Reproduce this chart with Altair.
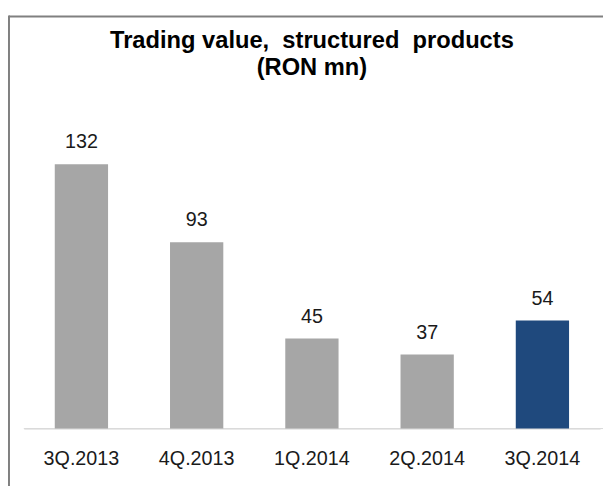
import altair as alt
import pandas as pd

quarters = ["3Q.2013", "4Q.2013", "1Q.2014", "2Q.2014", "3Q.2014"]
values = [132, 93, 45, 37, 54]
bar_colors = ["#A6A6A6", "#A6A6A6", "#A6A6A6", "#A6A6A6", "#1F497D"]
title_line1 = "Trading value,\u00a0 structured\u00a0 products"
title_line2 = "(RON mn)"

df = pd.DataFrame({"quarter": quarters, "value": values, "color": bar_colors})

FONT = "Liberation Sans, Arial, sans-serif"

x_enc = alt.X(
    "quarter:N",
    sort=quarters,
    scale=alt.Scale(paddingInner=0.54, paddingOuter=0.27),
    axis=alt.Axis(
        title=None, labelAngle=0, ticks=False, tickSize=0, grid=False,
        domainColor="#D9D9D9", domainWidth=1,
        labelFont=FONT, labelFontSize=20, labelColor="#1A1A1A",
        labelBaseline="alphabetic", labelPadding=36,
    ),
)
y_enc = alt.Y("value:Q", scale=alt.Scale(domain=[0, 165.5]), axis=None)

base = alt.Chart(df)

bars = base.mark_bar(size=54).encode(x=x_enc, y=y_enc, color=alt.Color("color:N", scale=None))
labels = base.mark_text(
    baseline="alphabetic", dy=-16, font=FONT, fontSize=20, color="#1A1A1A"
).encode(x=x_enc, y=y_enc, text="value:Q")

one = pd.DataFrame({"k": [0]})
frame_top = alt.Chart(one).mark_rule(color="#808080", strokeWidth=2).encode(
    x=alt.value(-15), x2=alt.value(600), y=alt.value(-81.5)
)
frame_left = alt.Chart(one).mark_rule(color="#808080", strokeWidth=2).encode(
    x=alt.value(-15), y=alt.value(-82.5), y2=alt.value(400)
)
base_ext = alt.Chart(one).mark_rule(color="#D9D9D9", strokeWidth=1).encode(
    x=alt.value(0), x2=alt.value(590), y=alt.value(336)
)
t1 = alt.Chart(one).mark_text(
    font=FONT, fontSize=24, fontWeight="bold", color="#000000",
    align="center", baseline="alphabetic",
).encode(x=alt.value(292), y=alt.value(-50), text=alt.value(title_line1))
t2 = alt.Chart(one).mark_text(
    font=FONT, fontSize=24, fontWeight="bold", color="#000000",
    align="center", baseline="alphabetic",
).encode(x=alt.value(292), y=alt.value(-22.5), text=alt.value(title_line2))

chart = alt.layer(frame_top, frame_left, base_ext, bars, labels, t1, t2).properties(
    width=584,
    height=336,
    autosize=alt.AutoSizeParams(type="none"),
    padding={"left": 16, "top": 87, "right": 3, "bottom": 55},
).configure_view(stroke=None)

chart.save("out.html", embed_options={"renderer": "svg", "actions": False})
